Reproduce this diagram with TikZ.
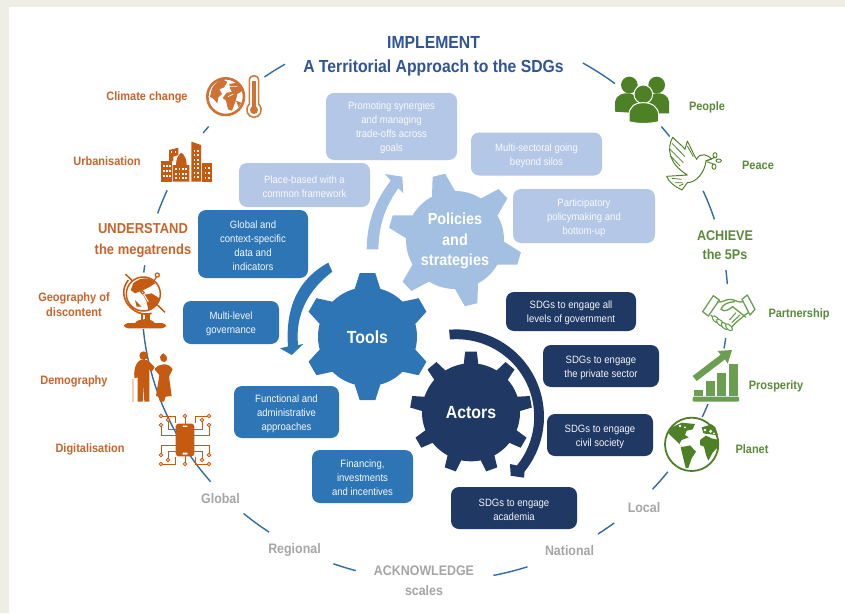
\documentclass[tikz,border=0pt]{standalone}
\usepackage{fontspec}
\setmainfont[FakeStretch=0.9]{Liberation Sans}
\definecolor{bgf}{HTML}{EFEEE4}
\definecolor{ring}{HTML}{2F6CA8}
\definecolor{org}{HTML}{C55A11}
\definecolor{orgt}{HTML}{C8652A}
\definecolor{grn}{HTML}{4E8125}
\definecolor{grnt}{HTML}{5A8A3A}
\definecolor{grnl}{HTML}{6B9E50}
\definecolor{gry}{HTML}{A6A6A6}
\definecolor{ttl}{HTML}{2F5597}
\definecolor{lbox}{HTML}{B4C7E7}
\definecolor{lgear}{HTML}{A3C0E2}
\definecolor{mblue}{HTML}{2E75B6}
\definecolor{dblue}{HTML}{1F3864}
\newcommand{\tp}{\rule{0pt}{11pt}}
\tikzset{
 boxnode/.style={rounded corners=8pt,inner sep=0pt,align=center,font=\fontsize{10.6}{14}\selectfont},
 lightbox/.style={boxnode,fill=lbox,text=white!92!lbox},
 midbox/.style={boxnode,fill=mblue,text=white!95!mblue},
 darkbox/.style={boxnode,fill=dblue,text=white!95!dblue},
 lab/.style={inner sep=0pt,align=center,font=\fontsize{12.2}{15.5}\selectfont\bfseries},
 orglab/.style={lab,text=orgt},
 grnlab/.style={lab,text=grnt},
 grylab/.style={lab,text=gry,font=\fontsize{13.8}{20}\selectfont\bfseries},
 head/.style={inner sep=0pt,align=center,font=\fontsize{14.4}{21}\selectfont\bfseries},
 gearlab/.style={inner sep=0pt,align=center,text=white,font=\fontsize{17.6}{20.5}\selectfont\bfseries},
 ringseg/.style={ring,line width=1.4pt},
 zoomed/.style={x=.33333pt,y=-.33333pt},
}
% cx cy rbody router n start tipHalf baseHalf colour
\newcommand{\gearshape}[9]{%
 \pgfmathsetmacro{\gs}{360/#5}%
 \pgfmathsetmacro{\gl}{int(#5-1)}%
 \fill[#9] ({#1+#3*cos(#6-#8)},{#2-#3*sin(#6-#8)})
 \foreach \k in {0,...,\gl}{
  -- ({#1+#4*cos(#6+\k*\gs-#7)},{#2-#4*sin(#6+\k*\gs-#7)})
  -- ({#1+#4*cos(#6+\k*\gs+#7)},{#2-#4*sin(#6+\k*\gs+#7)})
  -- ({#1+#3*cos(#6+\k*\gs+#8)},{#2-#3*sin(#6+\k*\gs+#8)})
  \foreach \f in {.1,.2,...,1.01}{
   -- ({#1+#3*cos(#6+\k*\gs+#8+\f*(\gs-2*#8))},{#2-#3*sin(#6+\k*\gs+#8+\f*(\gs-2*#8))})
  }
 } -- cycle;}
\newcommand{\ringpart}[2]{\draw[ringseg] plot[domain=#1:#2,samples=14,smooth] ({435+293*cos(\x)},{303-278*sin(\x)});}
\begin{document}
\begin{tikzpicture}[x=1pt,y=-1pt]
\useasboundingbox (0,0) rectangle (845,613);
\fill[white] (0,0) rectangle (845,613);
\fill[bgf] (0,0) rectangle (845,7);
\fill[bgf] (0,0) rectangle (8.5,613);
% ring
\ringpart{120.8}{125.6}\ringpart{140.6}{142.3}\ringpart{156.1}{161.2}\ringpart{172.2}{173.7}
\ringpart{185.4}{220}\ringpart{229.2}{235.5}\ringpart{249.7}{254.3}\ringpart{281.5}{288.4}
\ringpart{303.8}{307.7}\ringpart{317.9}{322.6}\ringpart{335.8}{338.7}\ringpart{350.6}{352.8}
\ringpart{3.9}{6.8}\ringpart{17.5}{23.8}\ringpart{36.8}{39.4}\ringpart{52.1}{59.7}
% title
\node[inner sep=0pt,text=ttl,align=center,font=\fontsize{17.5}{23.5}\selectfont\bfseries] (title) at (433.5,56.5) {IMPLEMENT\\A Territorial Approach to the SDGs};
% boxes
\node[lightbox,minimum width=131pt,minimum height=67pt] (b1) at (391.5,126.5) {\tp Promoting synergies\\and managing\\trade-offs across\\goals};
\node[lightbox,minimum width=131pt,minimum height=43pt] (b2) at (536.5,154) {\tp Multi-sectoral going\\beyond silos};
\node[lightbox,minimum width=142pt,minimum height=54pt] (b3) at (584,216) {\tp Participatory\\policymaking and\\bottom-up};
\node[lightbox,minimum width=131pt,minimum height=44pt] (b4) at (304.5,185) {\tp Place-based with a\\common framework};
\node[midbox,minimum width=110pt,minimum height=68pt] (b5) at (253,244) {\tp Global and\\context-specific\\data and\\indicators};
\node[midbox,minimum width=96pt,minimum height=43pt] (b6) at (231,322.5) {\tp Multi-level\\governance};
\node[midbox,minimum width=105pt,minimum height=52pt] (b7) at (286.5,412) {\tp Functional and\\administrative\\approaches};
\node[midbox,minimum width=101pt,minimum height=53pt] (b8) at (362.5,476.5) {\tp Financing,\\investments\\and incentives};
\node[darkbox,minimum width=130pt,minimum height=39pt] (b9) at (571,311.5) {\tp SDGs to engage all\\levels of government};
\node[darkbox,minimum width=116pt,minimum height=42pt] (b10) at (601,366) {\tp SDGs to engage\\the private sector};
\node[darkbox,minimum width=106pt,minimum height=42pt] (b11) at (600,435) {\tp SDGs to engage\\civil society};
\node[darkbox,minimum width=126pt,minimum height=42pt] (b12) at (514,508) {\tp SDGs to engage\\academia};
% arrows
\fill[lgear] (366.7,249.3) .. controls (367,215) and (380,195) .. (390.7,180.7) -- (385,174) -- (402.3,176.7) -- (403.3,193.3) -- (398.3,188.3) .. controls (388,203) and (379,220) .. (378.3,249.3) -- cycle;
\fill[mblue] (328.3,262.7) .. controls (300,278) and (285,305) .. (288,346.5) -- (280,348.3) -- (291.7,355) -- (303.3,344) -- (298,345) .. controls (295,315) and (308,290) .. (332.3,271.7) -- cycle;
\fill[dblue] plot[domain=95:-39,samples=40] ({456.7+87.3*cos(\x)},{416.7-87.3*sin(\x)}) -- (524,477.7) -- (510.7,475.7) -- (510,464) -- plot[domain=-39:95,samples=40] ({456.7+77.5*cos(\x)},{416.7-77.5*sin(\x)}) -- cycle;
% gears
\gearshape{455}{240}{49}{67}{6}{104}{5.5}{14}{lgear}
\gearshape{367.5}{336.7}{49.5}{64}{6}{90}{7}{15}{mblue}
\gearshape{471}{412.3}{49}{61}{9}{90}{5.5}{8.5}{dblue}
\node[gearlab,font=\fontsize{16}{20.5}\selectfont\bfseries] (policies) at (455,241) {Policies\\and\\strategies};
\node[gearlab] (tools) at (367.5,337) {Tools};
\node[gearlab] (actors) at (471,412.5) {Actors};
% left labels
\node[orglab] (l1) at (147,97.5) {Climate change};
\node[orglab] (l2) at (107,161) {Urbanisation};
\node[head,text=orgt] (l3) at (143,240.5) {UNDERSTAND\\the megatrends};
\node[orglab] (l4) at (74,304.5) {Geography of\\discontent};
\node[orglab] (l5) at (74,381) {Demography};
\node[orglab] (l6) at (90,449.5) {Digitalisation};
\node[grylab] (s1) at (220.5,498.5) {Global};
\node[grylab] (s2) at (294.5,550) {Regional};
\node[grylab] (s3) at (424,581) {ACKNOWLEDGE\\scales};
\node[grylab] (s4) at (569.5,551) {National};
\node[grylab] (s5) at (644,507.5) {Local};
\node[grnlab] (r1) at (707,107.5) {People};
\node[grnlab] (r2) at (758,165.5) {Peace};
\node[head,text=grnt,font=\fontsize{14}{19}\selectfont\bfseries] (r3) at (725,245.5) {ACHIEVE\\the 5Ps};
\node[grnlab] (r4) at (799,314.5) {Partnership};
\node[grnlab] (r5) at (776,386.5) {Prosperity};
\node[grnlab] (r6) at (752,449) {Planet};
% ICON climate
\begin{scope}[shift={(200,70)},zoomed]
 \draw[org!85!white,line width=2.6pt,fill=white] (77,80) circle (55);
 \fill[org!85!white] (36,55) .. controls (45,40) and (55,32) .. (68,28) -- (82,36) -- (72,52) -- (58,58) -- (66,72) -- (55,82) -- (52,100) -- (42,88) -- (30,80) -- cycle;
 \fill[org!85!white] (88,42) -- (112,38) -- (128,62) -- (112,72) -- (108,90) -- (96,122) -- (84,118) -- (78,92) -- (68,84) -- (80,68) -- (96,66) -- (90,55) -- cycle;
 \fill[org!85!white] (108,92) -- (124,98) -- (116,112) -- cycle;
 \draw[white,line width=.6pt] (88,50) -- (112,50) (84,80) -- (100,72);
 \draw[org!80!white,line width=1.6pt,fill=white] (148,102) -- (148,32) .. controls (148,12) and (176,12) .. (176,32) -- (176,102) .. controls (192,120) and (180,142) .. (162,142) .. controls (144,142) and (132,120) .. (148,102) -- cycle;
 \fill[org!85!white] (162,120) circle (12);
 \fill[org!85!white] (157,32) rectangle (167,118);
\end{scope}
% ICON city
\begin{scope}[shift={(90,60)},zoomed]
 \fill[org] (213,303) -- (245,303) -- (245,365) -- (213,365) -- cycle;
 \fill[org] (248,315) -- (258,315) .. controls (258,295) and (265,285) .. (274,278) .. controls (283,285) and (290,295) .. (290,315) -- (298,315) -- (298,365) -- (248,365) -- cycle;
 \fill[org] (304,245) -- (333,255) -- (333,365) -- (304,365) -- cycle;
 \fill[org] (337,310) -- (366,310) -- (366,365) -- (337,365) -- cycle;
 \fill[org] (237,270) -- (265,263) -- (265,285) -- (250,290) -- (250,303) -- (237,303) -- cycle;
 \foreach \xx in {219,229,238}{\foreach \yy in {315,330,345}{\fill[white] (\xx,\yy) rectangle ++(5,7);}}
 \foreach \xx in {256,266,276,286}{\foreach \yy in {325,338,350}{\fill[white] (\xx,\yy) rectangle ++(5,6);}}
 \foreach \xx in {311,322}{\foreach \yy in {270,283,296,309,322,335,348}{\fill[white] (\xx,\yy) rectangle ++(5,6);}}
 \foreach \xx in {344,355}{\foreach \yy in {322,336,350}{\fill[white] (\xx,\yy) rectangle ++(5,6);}}
 \foreach \xx in {243,254}{\fill[white] (\xx,274) rectangle ++(4,5);}
\end{scope}
% ICON globe on stand
\begin{scope}[shift={(20,260)},zoomed]
 \draw[org,line width=1.5pt] (316,42) -- (435,157);
 \draw[org,line width=1.6pt] (395,160) .. controls (340,175) and (285,110) .. (325,60);
 \draw[org,line width=1.5pt,fill=white] (370,102) circle (51);
 \draw[org,line width=1.5pt] (340,72) -- (400,130);
 \fill[org] (340,70) .. controls (360,50) and (395,50) .. (405,70) -- (390,80) -- (370,90) -- (345,100) -- (332,90) -- cycle;
 \fill[org] (370,105) -- (395,100) -- (418,115) .. controls (415,135) and (395,150) .. (385,150) -- (380,125) -- cycle;
 \fill[org] (345,120) -- (365,140) -- (350,140) -- cycle;
 \draw[org,line width=1.2pt] (397,70) -- (412,47);
 \draw[org,line width=1.2pt,fill=white] (412,45) circle (6);
 \draw[white,line width=1pt] (368,97) -- (385,125);
 \draw[org,line width=1pt,fill=white] (368,97) circle (5);
 \fill[org] (362,158) rectangle (370,180);
 \fill[org] (376,158) rectangle (390,180);
 \fill[org] (345,190) .. controls (350,175) and (395,172) .. (405,190) -- cycle;
 \fill[org,rounded corners=4pt] (312,189) rectangle (438,205);
\end{scope}
% ICON couple
\begin{scope}[shift={(20,260)},zoomed]
 \fill[org!30!white] (337,356) rectangle (342,425);
 \fill[org] (371,287) circle (13);
 \fill[org] (343,355) .. controls (340,315) and (355,298) .. (371,298) .. controls (385,298) and (398,315) .. (404,322) -- (396,334) -- (388,328) -- (388,425) -- (373,425) -- (371,375) -- (368,425) -- (353,425) -- (353,352) -- cycle;
 \fill[org] (430,280) -- (436,285) .. controls (443,290) and (443,305) .. (432,306) .. controls (420,305) and (417,290) .. (424,285) -- cycle;
 \fill[org] (405,325) .. controls (415,312) and (445,305) .. (458,328) -- (447,350) -- (455,408) -- (437,410) -- (432,425) -- (420,425) -- (415,410) -- (408,408) -- (418,345) -- (405,330) -- cycle;
\end{scope}
% ICON digital
\begin{scope}[shift={(185,440)}]
 \foreach \sx/\sy in {1/1,-1/1,1/-1,-1/-1}{
  \begin{scope}[xscale=\sx,yscale=\sy]
  \draw[org,line width=.9pt] (24,24) -- (10,24) -- (10,17);
  \draw[org,line width=.9pt] (9,11) -- (17,11) -- (17,19);
  \draw[org,line width=.9pt] (9,5) -- (24,5) -- (24,14);
  \draw[org,line width=.9pt,fill=white] (24,24) circle (1.7);
  \draw[org,line width=.9pt,fill=white] (17,20) circle (1.7);
  \draw[org,line width=.9pt,fill=white] (24,15) circle (1.7);
  \end{scope}}
 \foreach \sy in {1,-1}{\draw[org,line width=.9pt] (0,16*\sy) -- (0,23*\sy);
  \draw[org,line width=.9pt,fill=white] (0,24*\sy) circle (1.7);}
 \fill[org,rounded corners=3pt] (-9.3,-16.4) rectangle (9.3,16.4);
 \fill[white,rounded corners=.5pt] (-2.5,-14.5) rectangle (2.5,-13.2);
 \fill[white,rounded corners=.5pt] (-2.5,12.6) rectangle (2.5,14.5);
\end{scope}
% ICON people
\begin{scope}[shift={(600,60)},zoomed]
 \fill[grn] (88,75) circle (25);
 \fill[grn] (170,75) circle (25);
 \fill[grn] (45,155) -- (45,125) .. controls (48,105) and (70,97) .. (90,100) .. controls (110,105) and (120,120) .. (120,160) -- cycle;
 \fill[grn] (207,160) -- (207,125) .. controls (205,105) and (185,97) .. (165,100) .. controls (145,105) and (135,120) .. (135,160) -- cycle;
 \draw[white,line width=1pt,fill=grn] (130,103) circle (28);
 \draw[white,line width=1pt,fill=grn] (87,185) -- (87,165) .. controls (87,140) and (105,128) .. (130,128) .. controls (155,128) and (175,140) .. (176,165) -- (176,185) .. controls (150,192) and (110,192) .. (87,185) -- cycle;
\end{scope}
% ICON dove
\begin{scope}[shift={(600,60)},zoomed]
 \draw[grn,line width=.95pt,line join=round] (218,232) .. controls (200,265) and (205,310) .. (262,345) -- (200,349) .. controls (205,365) and (225,380) .. (246,390) -- (262,368) .. controls (290,368) and (315,335) .. (318,302) -- (335,297) .. controls (325,285) and (300,275) .. (290,298) -- (285,290) -- (262,243) -- (255,268) .. controls (245,255) and (230,245) .. (218,232) -- cycle;
 \draw[grn,line width=.8pt] (216,250) -- (255,290) (210,268) -- (250,308) (212,288) -- (240,318) (262,258) -- (280,290);
 \draw[grn,line width=.8pt] (215,355) -- (245,358) (225,368) -- (248,368) (237,378) -- (250,372);
 \draw[grn,line width=.9pt] (318,302) .. controls (330,300) and (340,295) .. (345,290);
 \draw[grn,line width=.9pt] (345,286) ellipse (6 and 8);
 \draw[grn,line width=.9pt] (356,302) ellipse (8 and 5);
 \draw[grn,line width=.9pt] (342,320) ellipse (6 and 8);
 \draw[grn,line width=.9pt] (320,305) -- (340,312);
\end{scope}
% ICON handshake
\begin{scope}[shift={(640,270)},zoomed]
 \draw[grnl,line width=1.3pt,line join=round] (188,125) -- (220,77) -- (238,90) -- (205,138) -- cycle;
 \draw[grnl,line width=1.3pt,line join=round] (306,88) -- (322,75) -- (345,118) -- (330,135) -- cycle;
 \draw[grnl,line width=1.3pt,line join=round] (232,95) .. controls (245,100) and (255,88) .. (270,88) .. controls (285,88) and (295,100) .. (310,95);
 \draw[grnl,line width=1.3pt,line join=round] (325,128) -- (316,134) -- (285,160) .. controls (275,175) and (262,178) .. (250,172) -- (212,135);
 \draw[grnl,line width=1.3pt,line join=round] (285,95) .. controls (265,95) and (245,105) .. (243,118) .. controls (255,128) and (268,118) .. (278,110) -- (318,142);
 \draw[grnl,line width=1.1pt] (300,135) -- (275,158) (288,128) -- (268,150);
 \foreach \xx/\yy in {227/148,240/158,254/168,267/172}{\draw[grnl,line width=1.1pt,fill=white,rotate around={-45:(\xx,\yy)}] (\xx,\yy) ellipse (13 and 7);}
\end{scope}
% ICON prosperity
\begin{scope}[shift={(640,270)},zoomed]
 \fill[grnl,rounded corners=1pt] (158,380) rectangle (297,395);
 \fill[grnl] (163,360) rectangle (190,378);
 \fill[grnl] (197,333) rectangle (224,378);
 \fill[grnl] (232,308) rectangle (259,378);
 \fill[grnl] (266,283) rectangle (293,378);
 \fill[grnl] (158,318) -- (242,254) -- (233,243) -- (276,240) -- (263,281) -- (255,268) -- (170,333) -- cycle;
\end{scope}
% ICON planet
\begin{scope}[shift={(640,270)},zoomed]
 \draw[grn,line width=1.8pt,fill=white] (155,523) circle (80);
 \fill[grn] (95,472) -- (125,458) -- (165,462) -- (158,478) -- (140,482) -- (135,495) -- (146,502) -- (125,510) -- (118,522) -- (128,532) -- (108,512) -- (85,490) -- cycle;
 \fill[grn] (122,532) -- (150,526) -- (168,545) -- (155,565) -- (145,594) -- (137,594) -- (130,565) -- cycle;
 \fill[grn] (180,510) -- (198,497) -- (215,505) -- (237,510) -- (235,530) -- (218,548) -- (205,572) -- (198,555) -- (192,530) -- (180,525) -- cycle;
 \fill[grn] (185,472) -- (215,463) -- (226,472) -- (234,496) -- (205,492) -- (190,490) -- cycle;
 \fill[white] (195,480) circle (4) (212,484) circle (5) (222,490) circle (3) (120,468) circle (4) (135,472) circle (3);
\end{scope}
\end{tikzpicture}
\end{document}
